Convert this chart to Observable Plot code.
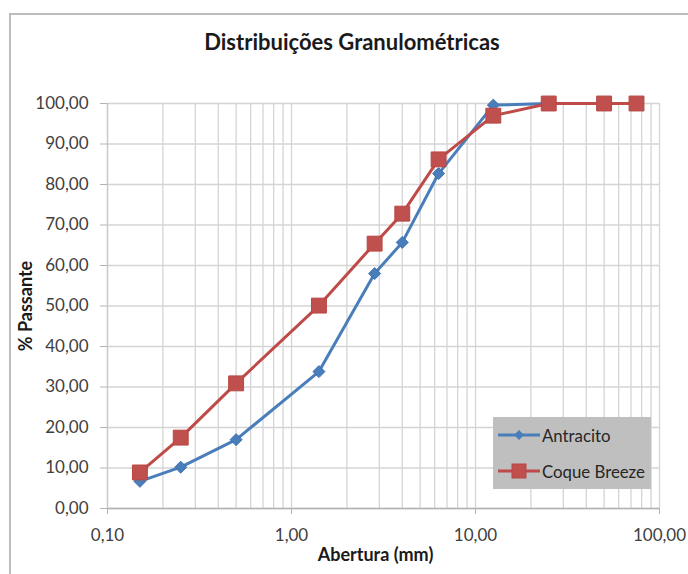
<!DOCTYPE html>
<html>
<head>
<meta charset="utf-8">
<script src="https://cdn.jsdelivr.net/npm/d3@7"></script>
<script src="https://cdn.jsdelivr.net/npm/@observablehq/plot@0.6"></script>
<style>
  html, body { margin: 0; padding: 0; background: #fff; }
  #wrap { position: relative; width: 688px; height: 574px; overflow: hidden; font-family: Lato, "Open Sans", sans-serif; }
  #border { position: absolute; left: 9px; top: 13px; width: 700px; height: 600px; border-left: 2px solid #bdbdbd; border-top: 2px solid #bdbdbd; }
  #title { position: absolute; left: 0; width: 704px; top: 28px; text-align: center; font-weight: bold; font-size: 22px; color: #1a1a1a; }
  #chart { position: absolute; left: 0; top: 0; }
  #legend { position: absolute; left: 493px; top: 417px; width: 158px; height: 72px; background: #bfbfbf; }
  #legend .item { position: absolute; left: 5px; height: 20px; display: flex; align-items: center; font-size: 16.8px; color: #262626; white-space: nowrap; }
  #legend svg { margin-right: 2px; }
</style>
</head>
<body>
<div id="wrap">
  <div id="border"></div>
  <div id="title">Distribuições Granulométricas</div>
  <div id="chart"></div>
  <div id="legend"></div>
</div>
<script>
// Data
const aberturas = [0.15, 0.25, 0.5, 1.41, 2.83, 4, 6.3, 12.5, 25, 50, 75];
const antracito = [6.7, 10.2, 17.0, 33.8, 58.0, 65.7, 82.7, 99.6, 100, 100, 100];
const coqueBreeze = [8.9, 17.5, 30.9, 50.1, 65.4, 72.8, 86.2, 97.0, 100, 100, 100];
const seriesNames = ["Antracito", "Coque Breeze"];
const seriesColors = ["#4a7ebb", "#be4b48"];
const xMajorTicks = [0.1, 1, 10, 100];
const xGridTicks = [0.1, 0.2, 0.3, 0.4, 0.5, 0.6, 0.7, 0.8, 0.9,
                    1, 2, 3, 4, 5, 6, 7, 8, 9,
                    10, 20, 30, 40, 50, 60, 70, 80, 90, 100];
const yTicks = [0, 10, 20, 30, 40, 50, 60, 70, 80, 90, 100];

const rows = [];
aberturas.forEach((a, i) => {
  rows.push({serie: seriesNames[0], x: a, y: antracito[i]});
});
aberturas.forEach((a, i) => {
  rows.push({serie: seriesNames[1], x: a, y: coqueBreeze[i]});
});
const antRows = rows.filter(d => d.serie === seriesNames[0]);
const coqRows = rows.filter(d => d.serie === seriesNames[1]);

const fmt = d => d.toFixed(2).replace(".", ",");

const chart = Plot.plot({
  width: 688,
  height: 574,
  marginLeft: 107,
  marginRight: 29,
  marginTop: 103,
  marginBottom: 66,
  style: {fontFamily: "Lato, 'Open Sans', sans-serif", fontSize: "17px", color: "#404040", background: "transparent", overflow: "visible"},
  x: {type: "log", domain: [0.1, 100]},
  y: {domain: [0, 100]},
  marks: [
    Plot.gridX(xGridTicks, {stroke: "#d4d4d4", strokeOpacity: 1, strokeWidth: 1.3}),
    Plot.gridY(yTicks, {stroke: "#d4d4d4", strokeOpacity: 1, strokeWidth: 1.3}),
    Plot.ruleY([0], {stroke: "#b3b3b3", strokeWidth: 1.5}),
    Plot.ruleX([0.1], {stroke: "#c8c8c8", strokeWidth: 1.3}),
    Plot.axisX(xMajorTicks, {tickFormat: fmt, tickSize: 6, tickPadding: 14, stroke: "#b3b3b3", label: "Abertura (mm)", labelAnchor: "center", labelArrow: "none", labelOffset: 52}),
    Plot.axisY(yTicks, {tickFormat: fmt, tickSize: 7, tickPadding: 12, stroke: "#b3b3b3", label: "% Passante", labelAnchor: "center", labelArrow: "none", labelOffset: 88}),
    Plot.line(antRows, {x: "x", y: "y", stroke: seriesColors[0], strokeWidth: 3}),
    Plot.dot(antRows, {x: "x", y: "y", symbol: "diamond2", r: 5.4, fill: seriesColors[0], stroke: "#3f72b0", strokeWidth: 1}),
    Plot.line(coqRows, {x: "x", y: "y", stroke: seriesColors[1], strokeWidth: 3}),
    Plot.dot(coqRows, {x: "x", y: "y", symbol: "square", r: 8.4, fill: "#c0504d", stroke: "#b84744", strokeWidth: 1})
  ]
});
document.getElementById("chart").appendChild(chart);
// bold axis labels
chart.querySelectorAll("[aria-label='x-axis label'] text, [aria-label='y-axis label'] text").forEach(t => {
  t.setAttribute("font-weight", "bold");
  t.setAttribute("fill", "#1a1a1a");
  t.setAttribute("font-size", "18px");
});
chart.querySelectorAll("[aria-label='x-axis label'] text").forEach(t => {
  t.setAttribute("dx", "-8");
});

// Legend
const legend = document.getElementById("legend");
seriesNames.forEach((name, i) => {
  const item = document.createElement("div");
  item.className = "item";
  item.style.top = (i === 0 ? 8 : 44) + "px";
  const sym = i === 0
    ? `<polygon points="21,5 26,10 21,15 16,10" fill="${seriesColors[0]}"/>`
    : `<rect x="14" y="3" width="14" height="14" fill="#c0504d" stroke="#b84744"/>`;
  item.innerHTML = `<svg width="42" height="20"><line x1="0" x2="42" y1="10" y2="10" stroke="${seriesColors[i]}" stroke-width="3"/>${sym}</svg><span>${name}</span>`;
  legend.appendChild(item);
});
</script>
</body>
</html>
